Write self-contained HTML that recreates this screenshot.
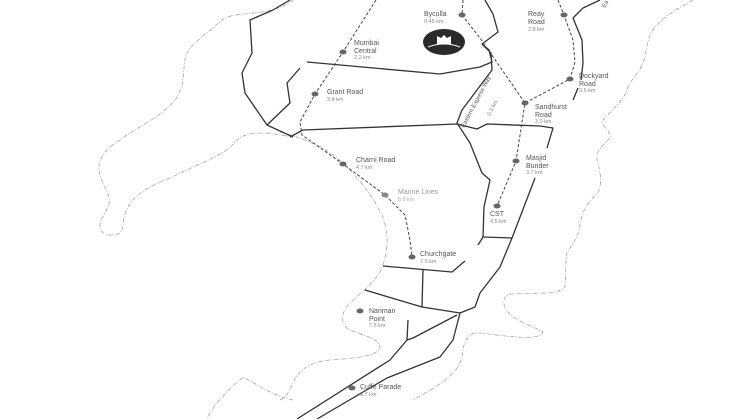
<!DOCTYPE html>
<html><head><meta charset="utf-8"><style>
html,body{margin:0;padding:0;background:#fff;}
svg{display:block;}
text{font-family:"Liberation Sans",sans-serif;}
.n{font-size:7px;fill:#555;}
.k{font-size:5.5px;fill:#888;}
.road{fill:none;stroke:#333;stroke-width:1.3;stroke-linejoin:round;}
.rail{fill:none;stroke:#444;stroke-width:1;stroke-dasharray:3 2;}
.coast{fill:none;stroke:#999;stroke-width:0.7;stroke-dasharray:4 1.5 1 1.5;}
</style></head><body>
<svg width="755" height="419" viewBox="0 0 755 419" xmlns="http://www.w3.org/2000/svg">
<!-- coastlines -->
<path class="coast" d="M293,0 C285,6 275,10 262,12 C240,15 230,14 222,20 C205,35 190,45 186,55 C182,70 186,85 175,100 C160,118 140,125 120,140 C95,155 96,170 104,185 C112,200 110,205 104,215 C96,226 100,236 113,235 C125,234 122,226 124,218 C128,200 140,190 170,178 C200,163 225,155 235,142 C242,134 252,133 267,133 L293,137"/>
<path class="coast" d="M280,132 C310,140 330,150 345,165 C360,180 372,195 382,215 C390,235 388,255 380,272 C372,285 358,295 350,303 C340,313 340,325 350,330 C362,335 378,338 380,347 C380,355 360,358 330,360 C310,362 298,370 292,385 C288,395 284,398 280,400"/>
<path class="coast" d="M293,400 C275,397 258,385 243,377 C230,388 215,402 207,419"/>
<path class="coast" d="M693,0 C680,8 670,12 660,22 C645,35 648,50 643,63 C638,75 630,80 627,90 C624,100 612,110 603,120 C600,127 612,130 610,138 C600,148 596,152 597,160 C600,172 603,182 598,192 C588,203 582,210 580,225 C578,238 572,245 567,253 C565,265 566,278 565,287 C560,292 552,293 545,293 L510,294 C502,297 502,305 508,312 C514,320 530,325 543,332 C540,340 520,338 480,333 C470,332 465,338 463,350 C462,362 458,370 445,380 C435,388 420,396 413,400"/>
<!-- roads -->
<path class="road" d="M290,0 L273,10 L250,20 L252,53 L242,73 L245,93 L267,125 L293,137"/>
<path class="road" d="M300,68 L287,83 L290,103 L267,125"/>
<path class="road" d="M307,62 L440,74 L480,67 L492,62 L489,50 L482,44 L498,32 L493,14 L485,0"/>
<path class="road" d="M483,45 L491,53 L492,70 L462,110 L457,123 L470,143 L482,173 L490,180 L484,207 L483,237 L478,245"/>
<path class="road" d="M290,137 L303,130 L457,124 L477,129 L487,124 L540,126 L553,128 L547,148"/>
<path class="road" d="M535,178 L512,238 L500,267 L490,280 L480,293 L475,307 L460,313"/>
<path class="road" d="M483,237 L512,238"/>
<path class="road" d="M383,266 L452,272 L465,261"/>
<path class="road" d="M423,270 L422,307"/>
<path class="road" d="M365,290 L422,307 L460,313"/>
<path class="road" d="M408,320 L407,340 L390,360 L297,419"/>
<path class="road" d="M457,315 L413,338 L407,340"/>
<path class="road" d="M460,313 L453,340 L440,357 L387,378 L317,419"/>
<path class="road" d="M600,0 L583,8 L573,18 L582,40 L583,63 L581,80"/>
<path class="road" d="M578,88 L573,100"/>
<!-- rail lines -->
<path class="rail" d="M376,0 L343,52 L315,94 L300,122 L302,135 L343,164 L385,195 L405,215 L410,240 L412,257"/>
<path class="rail" d="M463,0 L462,15 L480,38 L525,103 L516,161 L497,206"/>
<path class="rail" d="M558,0 L564,15 L573,40 L575,62 L570,79 L525,103"/>
<!-- stations -->
<g fill="#666">
<ellipse cx="462" cy="15" rx="3.5" ry="2.5"/>
<ellipse cx="343" cy="52" rx="3.5" ry="2.5"/>
<ellipse cx="315" cy="94" rx="3.5" ry="2.5"/>
<ellipse cx="343" cy="164" rx="3.5" ry="2.5"/>
<ellipse cx="385" cy="195" rx="3.5" ry="2.5" fill="#888"/>
<ellipse cx="412" cy="257" rx="3.5" ry="2.5"/>
<ellipse cx="564" cy="15" rx="3.5" ry="2.5"/>
<ellipse cx="570" cy="79" rx="3.5" ry="2.5"/>
<ellipse cx="525" cy="103" rx="3.5" ry="2.5"/>
<ellipse cx="516" cy="161" rx="3.5" ry="2.5"/>
<ellipse cx="497" cy="206" rx="3.5" ry="2.5"/>
<ellipse cx="360" cy="311" rx="3.5" ry="2.5"/>
<ellipse cx="352" cy="388" rx="3.5" ry="2.5"/>
</g>
<!-- logo -->
<ellipse cx="444" cy="42" rx="21" ry="13" fill="#2a2a2a"/>
<path d="M428,47 Q444,41 460,47" stroke="#fff" stroke-width="1" fill="none"/>
<path d="M437,44 L437,36 L441,38 L444,35 L447,38 L451,36 L451,44 Z" fill="#fff"/>
<!-- labels -->
<text class="n" x="424" y="16">Byculla</text><text class="k" x="424" y="23">0.45 km.</text>
<text class="n" x="354" y="45">Mumbai</text><text class="n" x="354" y="53">Central</text><text class="k" x="354" y="59">2.2 km</text>
<text class="n" x="327" y="94">Grant Road</text><text class="k" x="327" y="101">3.4 km</text>
<text class="n" x="356" y="162">Charni Road</text><text class="k" x="356" y="169">4.7 km</text>
<text class="n" x="398" y="194" style="fill:#999">Marine Lines</text><text class="k" x="398" y="201" style="fill:#aaa">5.8 km</text>
<text class="n" x="420" y="256">Churchgate</text><text class="k" x="420" y="263">7.0 km</text>
<text class="n" x="528" y="16">Reay</text><text class="n" x="528" y="24">Road</text><text class="k" x="528" y="31">2.8 km</text>
<text class="n" x="579" y="78">Dockyard</text><text class="n" x="579" y="86">Road</text><text class="k" x="579" y="92">3.5 km</text>
<text class="n" x="535" y="109">Sandhurst</text><text class="n" x="535" y="117">Road</text><text class="k" x="535" y="123">3.0 km</text>
<text class="n" x="526" y="160">Masjid</text><text class="n" x="526" y="168">Bunder</text><text class="k" x="526" y="174">3.7 km</text>
<text class="n" x="490" y="216">CST</text><text class="k" x="490" y="223">4.5 km</text>
<text class="n" x="369" y="313">Nariman</text><text class="n" x="369" y="321">Point</text><text class="k" x="369" y="327">7.5 km</text>
<text class="n" x="360" y="389">Cuffe Parade</text><text class="k" x="360" y="396">8.7 km</text>
<text class="n" transform="translate(464,128) rotate(-62)" style="font-size:6px">Eastern Express Way</text>
<text class="k" transform="translate(490,116) rotate(-62)">0.3 km</text>
<text class="n" transform="translate(605,8) rotate(-62)" style="font-size:6px">Ea</text>
</svg>
</body></html>
